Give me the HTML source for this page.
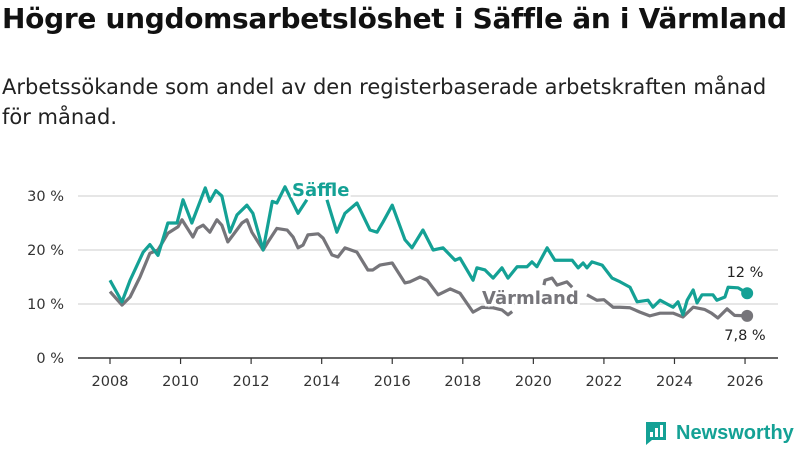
<!DOCTYPE html>
<html><head><meta charset="utf-8">
<style>
body{margin:0;width:800px;height:450px;background:#fff;font-family:"DejaVu Sans","Liberation Sans",sans-serif;overflow:hidden;position:relative}
h1{position:absolute;left:2px;top:2px;margin:0;font-size:28px;font-weight:bold;color:#111;white-space:nowrap;letter-spacing:-0.3px}
p{position:absolute;left:2px;top:72px;margin:0;font-size:21px;line-height:30px;color:#222;width:795px}
svg{position:absolute;left:0;top:0}
</style></head><body>
<h1>Högre ungdomsarbetslöshet i Säffle än i Värmland</h1>
<p>Arbetssökande som andel av den registerbaserade arbetskraften månad<br>för månad.</p>
<svg id="c" width="800" height="450"></svg>
<script>
const yTicks=[0,10,20,30];
const xTicks=[2008,2010,2012,2014,2016,2018,2020,2022,2024,2026];
const saffleT=[2008.0,2008.34,2008.57,2008.94,2009.13,2009.36,2009.64,2009.9,2010.07,2010.32,2010.7,2010.83,2011.0,2011.17,2011.4,2011.6,2011.88,2012.05,2012.34,2012.6,2012.73,2012.96,2013.33,2013.58,2013.8,2014.15,2014.43,2014.66,2015.0,2015.37,2015.57,2015.74,2016.0,2016.36,2016.56,2016.87,2017.16,2017.44,2017.78,2017.92,2018.29,2018.4,2018.63,2018.86,2019.11,2019.28,2019.54,2019.82,2019.96,2020.1,2020.39,2020.61,2021.1,2021.27,2021.41,2021.52,2021.66,2021.95,2022.23,2022.46,2022.74,2022.94,2023.25,2023.39,2023.59,2023.96,2024.1,2024.24,2024.36,2024.53,2024.64,2024.78,2025.09,2025.2,2025.43,2025.52,2025.8,2026.06];
const saffleV=[14.4,10.4,14.4,19.6,21,19,25,25,29.3,25,31.5,29,31,30,23.3,26.5,28.3,26.8,20,29,28.7,31.7,26.8,29.3,null,29.3,23.3,26.8,28.7,23.7,23.3,25.2,28.3,21.9,20.4,23.7,20,20.4,18.1,18.5,14.4,16.7,16.3,14.8,16.7,14.8,16.9,16.9,17.8,16.9,20.4,18.1,18.1,16.7,17.6,16.7,17.8,17.2,14.8,14.1,13.1,10.4,10.7,9.4,10.7,9.4,10.4,8,10.7,12.6,10.2,11.7,11.7,10.7,11.3,13.1,13,12];
const varmT=[2008.0,2008.34,2008.57,2008.85,2009.13,2009.36,2009.64,2009.93,2010.04,2010.35,2010.47,2010.64,2010.83,2011.03,2011.17,2011.34,2011.49,2011.74,2011.88,2012.02,2012.34,2012.48,2012.73,2013.02,2013.19,2013.33,2013.47,2013.61,2013.9,2014.04,2014.29,2014.46,2014.66,2015.0,2015.31,2015.45,2015.65,2016.0,2016.36,2016.5,2016.79,2016.99,2017.3,2017.64,2017.92,2018.29,2018.54,2018.86,2019.11,2019.28,2019.4,2019.7,2020.3,2020.33,2020.53,2020.67,2020.95,2021.1,2021.3,2021.52,2021.8,2022.0,2022.26,2022.45,2022.74,2023.02,2023.3,2023.59,2023.96,2024.24,2024.53,2024.85,2025.05,2025.23,2025.49,2025.7,2026.06];
const varmV=[12.3,9.8,11.3,15,19.4,20,23.1,24.3,25.6,22.4,24,24.6,23.3,25.6,24.6,21.5,22.8,25,25.6,23.3,20,21.5,24,23.7,22.4,20.4,20.9,22.8,23,22.2,19.1,18.7,20.4,19.6,16.3,16.3,17.2,17.6,13.9,14.1,15,14.4,11.7,12.8,12,8.5,9.4,9.3,8.9,8,8.6,null,13.5,14.4,14.8,13.5,14.1,13.1,null,11.7,10.7,10.8,9.4,9.4,9.3,8.5,7.8,8.3,8.3,7.6,9.4,9,8.3,7.4,9.1,7.9,7.8];
const svg=document.getElementById('c');const NS='http://www.w3.org/2000/svg';
const X=t=>110+(t-2008)*35.28, Y=v=>358-v*5.4;
function mk(tag,attrs,name,txt){const e=document.createElementNS(NS,tag);for(const k in attrs)e.setAttribute(k,attrs[k]);


if(txt!==undefined)e.textContent=txt;svg.appendChild(e);return e;}
yTicks.forEach(v=>{if(v>0)mk('line',{x1:78,x2:778,y1:Y(v),y2:Y(v),stroke:'#ddd','stroke-width':1.5},'gridline-'+v);
mk('text',{x:64,y:Y(v)+5,'text-anchor':'end','font-size':14.5,fill:'#333'},'y-tick-label',v+' %');});
mk('line',{x1:78,x2:778,y1:358,y2:358,stroke:'#333','stroke-width':1.5},'x-axis');
xTicks.forEach(t=>{mk('line',{x1:X(t),x2:X(t),y1:358,y2:364,stroke:'#333','stroke-width':1.2},'x-tick');
mk('text',{x:X(t),y:386,'text-anchor':'middle','font-size':14.5,fill:'#333'},'x-tick-label',String(t));});
function line(T,V,col,name){let segs=[[]];T.forEach((t,i)=>{if(V[i]===null)segs.push([]);else segs[segs.length-1].push(X(t)+','+Y(V[i]));});
let d=segs.filter(s=>s.length).map(s=>'M'+s.join('L')).join(' ');
mk('path',{d:d,fill:'none',stroke:col,'stroke-width':3.2,'stroke-linejoin':'round'},name);}
line(varmT,varmV,'#76757a','line-varmland');
line(saffleT,saffleV,'#14a195','line-saffle');
const hs={stroke:'#fff','stroke-width':5,'paint-order':'stroke','font-weight':'bold','font-size':18};
mk('text',Object.assign({x:292,y:196,fill:'#14a195'},hs),'label-saffle','Säffle');
mk('text',Object.assign({x:482,y:304,fill:'#76757a'},hs),'label-varmland','Värmland');
const sl=saffleT.length-1,vl=varmT.length-1;
mk('circle',{cx:X(saffleT[sl]),cy:Y(saffleV[sl]),r:6,fill:'#14a195'},'end-point-saffle');
mk('circle',{cx:X(varmT[vl]),cy:Y(varmV[vl]),r:6,fill:'#76757a'},'end-point-varmland');
mk('text',{x:745,y:277,'text-anchor':'middle','font-size':14.5,fill:'#222'},'end-value-saffle','12 %');
mk('text',{x:745,y:340,'text-anchor':'middle','font-size':14.5,fill:'#222'},'end-value-varmland','7,8 %');
</script>
<div style="position:absolute;left:644px;top:420px;display:flex;align-items:center">
<svg width="24" height="26" style="position:static"><path d="M2 2h20v18H8l-6 5z" fill="#14a195"/><rect x="6" y="12" width="3" height="5" fill="#fff"/><rect x="11" y="8" width="3" height="9" fill="#fff"/><rect x="16" y="5" width="3" height="12" fill="#fff"/></svg>
<span style="font-family:'Liberation Sans',sans-serif;font-size:20px;font-weight:bold;color:#14a195;margin-left:8px">Newsworthy</span></div>
</body></html>
